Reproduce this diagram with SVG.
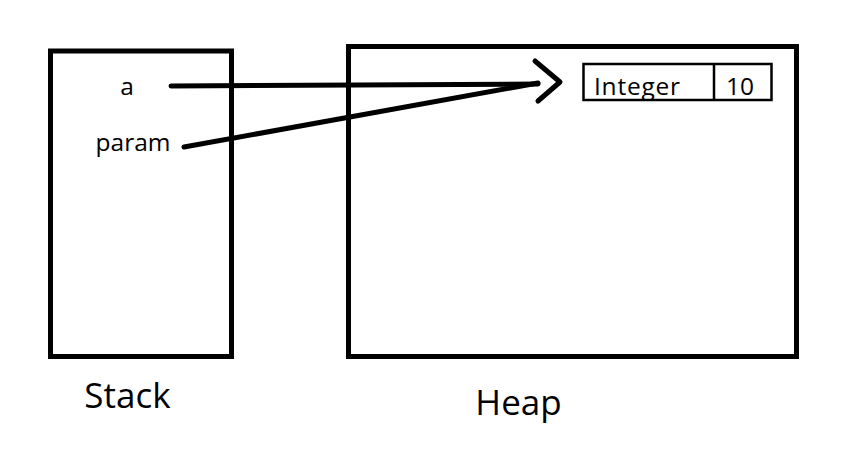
<svg xmlns="http://www.w3.org/2000/svg" width="844" height="466" viewBox="0 0 844 466">
<style>
.box{fill:none;stroke:#000;stroke-width:5}
.cell{fill:none;stroke:#000;stroke-width:2.5}
.ln{fill:none;stroke:#000;stroke-width:5;stroke-linecap:round;stroke-linejoin:round}
.t{font-family:"Open Sans","Noto Sans","Liberation Sans",sans-serif;fill:#000}
.s{font-size:24.5px}
.b{font-size:35px}
</style>
<rect width="844" height="466" fill="#fff"/>
<g id="stack">
<rect class="box" x="50.5" y="51" width="181" height="305.5"/>
<text class="t s" x="127" y="95" text-anchor="middle">a</text>
<text class="t s" x="133" y="151" text-anchor="middle">param</text>
<text class="t b" x="127.5" y="408" text-anchor="middle">Stack</text>
</g>
<g id="heap">
<rect class="box" x="348.5" y="46.5" width="448" height="310"/>
<text class="t b" x="518.5" y="415" text-anchor="middle">Heap</text>
</g>
<g id="integer">
<rect class="cell" x="583.5" y="64" width="188" height="36"/>
<line class="cell" x1="714" y1="64" x2="714" y2="100"/>
<text class="t s" x="637" y="95" text-anchor="middle" textLength="86">Integer</text>
<text class="t s" x="740" y="95" text-anchor="middle">10</text>
</g>
<g id="connectors">
<line class="ln" x1="171" y1="86" x2="538" y2="84"/>
<line class="ln" x1="184" y1="147" x2="538" y2="83"/>
<polyline class="ln" points="535,61 560,82 538,101"/>
</g>
</svg>
